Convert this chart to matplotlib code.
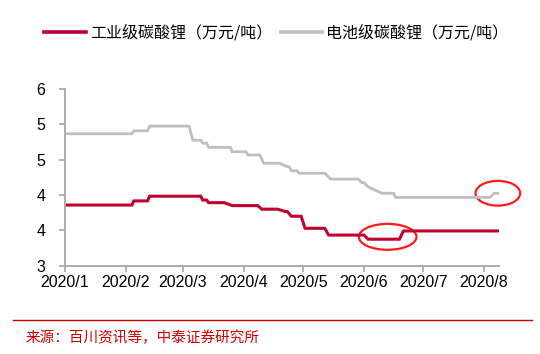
import matplotlib
matplotlib.use("Agg")
import matplotlib.pyplot as plt
import matplotlib.dates as mdates
from matplotlib.patches import Ellipse
from matplotlib.ticker import FormatStrFormatter, FixedLocator
import pandas as pd

plt.rcParams['font.family'] = ['Liberation Sans', 'Noto Sans CJK SC', 'DejaVu Sans']

# Industrial-grade lithium carbonate (万元/吨)
ind_dates = ["2020-01-01", "2020-02-04", "2020-02-05", "2020-02-12", "2020-02-13",
             "2020-03-10", "2020-03-11", "2020-03-13", "2020-03-14", "2020-03-22",
             "2020-03-26", "2020-04-08", "2020-04-10", "2020-04-18", "2020-04-22",
             "2020-04-23", "2020-04-25", "2020-04-30", "2020-05-02", "2020-05-12",
             "2020-05-14", "2020-06-01", "2020-06-03", "2020-06-19", "2020-06-21",
             "2020-08-08"]
ind_values = [4.03, 4.03, 4.10, 4.10, 4.18,
              4.18, 4.115, 4.115, 4.07, 4.07,
              4.02, 4.02, 3.96, 3.96, 3.92,
              3.92, 3.84, 3.84, 3.635, 3.635,
              3.52, 3.52, 3.45, 3.45, 3.59,
              3.59]

# Battery-grade lithium carbonate (万元/吨)
bat_dates = ["2020-01-01", "2020-02-04", "2020-02-05", "2020-02-12", "2020-02-13",
             "2020-03-04", "2020-03-06", "2020-03-10", "2020-03-11", "2020-03-13",
             "2020-03-14", "2020-03-25", "2020-03-26", "2020-04-02", "2020-04-03",
             "2020-04-09", "2020-04-11", "2020-04-19", "2020-04-23", "2020-04-24",
             "2020-04-25", "2020-04-28", "2020-04-29", "2020-05-12", "2020-05-15",
             "2020-05-29", "2020-05-31", "2020-06-01", "2020-06-03", "2020-06-10",
             "2020-06-16", "2020-06-17", "2020-08-04", "2020-08-06", "2020-08-08"]
bat_values = [5.24, 5.24, 5.29, 5.29, 5.37,
              5.37, 5.13, 5.13, 5.08, 5.08,
              5.01, 5.01, 4.935, 4.935, 4.88,
              4.88, 4.74, 4.74, 4.68, 4.68,
              4.61, 4.61, 4.57, 4.57, 4.47,
              4.47, 4.41, 4.41, 4.34, 4.23,
              4.23, 4.16, 4.16, 4.23, 4.23]

series_names = ["工业级碳酸锂（万元/吨）", "电池级碳酸锂（万元/吨）"]
month_ticks = ["2020-01-01", "2020-02-01", "2020-03-01", "2020-04-01",
               "2020-05-01", "2020-06-01", "2020-07-01", "2020-08-01"]
month_labels = ["2020/1", "2020/2", "2020/3", "2020/4",
                "2020/5", "2020/6", "2020/7", "2020/8"]
y_ticks = [3.0, 3.6, 4.2, 4.8, 5.4, 6.0]
source_text = "来源：百川资讯等，中泰证券研究所"

RED = "#C0002F"
GRAY = "#BFBFBF"
AXC = "#A6A6A6"

fig = plt.figure(figsize=(5.40, 3.54), dpi=100)
ax = fig.add_axes([65/540, 1 - 265.7/354, (499 - 65)/540, (265.7 - 89)/354])

ind_x = pd.to_datetime(ind_dates)
bat_x = pd.to_datetime(bat_dates)
l1, = ax.plot(ind_x, ind_values, color=RED, lw=2.2, solid_joinstyle='miter')
l2, = ax.plot(bat_x, bat_values, color=GRAY, lw=2.0, solid_joinstyle='miter')

ax.set_xlim(pd.Timestamp("2020-01-01"), pd.Timestamp("2020-08-08 14:00"))
ax.set_ylim(3, 6)
ax.yaxis.set_major_locator(FixedLocator(y_ticks))
ax.yaxis.set_major_formatter(FormatStrFormatter('%.0f'))
ax.set_xticks(pd.to_datetime(month_ticks))
ax.set_xticklabels(month_labels)

for s in ["top", "right"]:
    ax.spines[s].set_visible(False)
for s in ["left", "bottom"]:
    ax.spines[s].set_color(AXC)
    ax.spines[s].set_linewidth(1.3)
ax.tick_params(axis='both', colors=AXC, labelcolor='black', labelsize=11.5,
               length=4, width=1.2, direction='out')
ax.tick_params(axis='y', pad=10)
ax.tick_params(axis='x', pad=3)

# Red highlight ellipses
e1 = Ellipse((mdates.date2num(pd.Timestamp("2020-08-08")), 4.23), width=22.7, height=0.42,
             fill=False, edgecolor="#FF1A1A", lw=1.6, clip_on=False)
e2 = Ellipse((mdates.date2num(pd.Timestamp("2020-06-13")), 3.49), width=29.3, height=0.44,
             fill=False, edgecolor="#FF1A1A", lw=1.6, clip_on=False)
ax.add_patch(e1)
ax.add_patch(e2)

leg = fig.legend([l1, l2], series_names, loc='center', bbox_to_anchor=(0.512, 0.907),
                 ncol=2, frameon=False, handlelength=2.6,
                 handletextpad=0.25, columnspacing=0.55,
                 prop={'family': ['Noto Sans CJK SC'], 'size': 11.5})
leg.legend_handles[0].set_linewidth(2.6)
leg.legend_handles[1].set_linewidth(2.6)

# Source line and text
fig.add_artist(plt.Line2D([13/540, 532/540], [1 - 319.7/354, 1 - 319.7/354],
                          color="#D00000", lw=1.0, transform=fig.transFigure))
fig.text(26/540, 1 - 338/354, source_text, color="#D00000", fontsize=10.5,
         family=['Noto Sans CJK SC'], va='center', ha='left')

fig.savefig("out.png", dpi=100)
